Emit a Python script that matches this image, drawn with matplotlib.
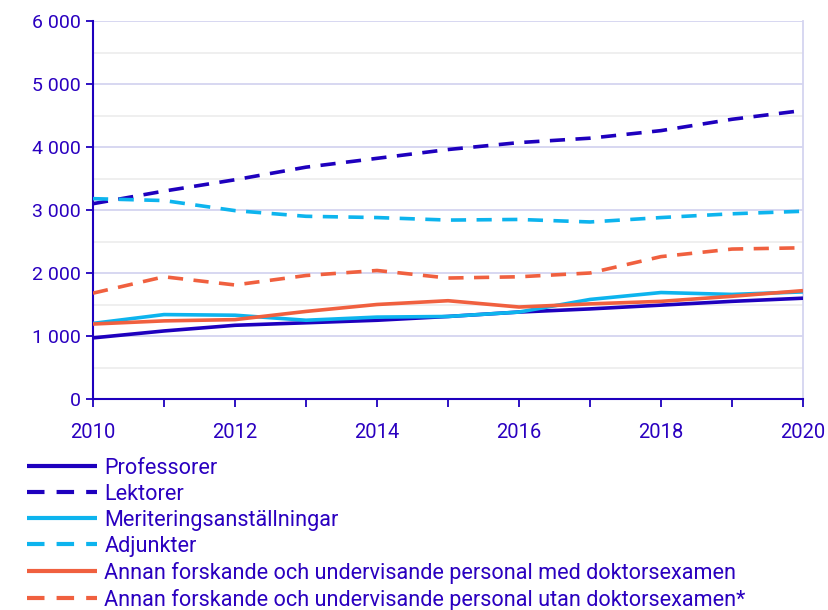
import matplotlib
matplotlib.use("Agg")
import matplotlib.pyplot as plt
from matplotlib.ticker import MultipleLocator, FuncFormatter

years = list(range(2010, 2021))
professorer = [970, 1080, 1170, 1210, 1250, 1310, 1380, 1430, 1490, 1550, 1600]
lektorer = [3100, 3300, 3480, 3680, 3820, 3960, 4070, 4140, 4260, 4440, 4580]
meritering = [1200, 1340, 1330, 1250, 1300, 1310, 1380, 1580, 1690, 1660, 1700]
adjunkter = [3180, 3150, 2990, 2900, 2880, 2840, 2850, 2810, 2880, 2940, 2980]
annan_med = [1190, 1240, 1260, 1390, 1500, 1560, 1460, 1510, 1550, 1630, 1720]
annan_utan = [1680, 1940, 1810, 1960, 2040, 1920, 1940, 2000, 2260, 2380, 2400]

labels = ["Professorer", "Lektorer", "Meriteringsanställningar", "Adjunkter",
          "Annan forskande och undervisande personal med doktorsexamen",
          "Annan forskande och undervisande personal utan doktorsexamen*"]

DARK = "#1e00be"
LIGHT = "#0db4ee"
ORANGE = "#f0603f"
TEXT = "#2a00c0"

plt.rcParams['font.family'] = ['Roboto', 'DejaVu Sans']

fig = plt.figure(figsize=(8.29, 6.10), dpi=100)
ax = fig.add_axes([93/829, 1-399/610, (803-93)/829, (399-21)/610])

series = [professorer, lektorer, meritering, adjunkter, annan_med, annan_utan]
colors = [DARK, DARK, LIGHT, LIGHT, ORANGE, ORANGE]
dashed = [False, True, False, True, False, True]
for s, c, d, l in zip(series, colors, dashed, labels):
    ls = (0, (4.2, 2.9)) if d else '-'
    ax.plot(years, s, color=c, lw=2.6, linestyle=ls, label=l, solid_capstyle='butt', dash_capstyle='butt', zorder=3)

ax.set_xlim(2010, 2020)
ax.set_ylim(0, 6000)
ax.yaxis.set_major_locator(MultipleLocator(1000))
ax.yaxis.set_minor_locator(MultipleLocator(500))
ax.xaxis.set_major_locator(MultipleLocator(2))
ax.xaxis.set_minor_locator(MultipleLocator(1))
ax.yaxis.set_major_formatter(FuncFormatter(lambda v, p: f"{int(v):,}".replace(",", " ")))

ax.grid(which='major', axis='y', color='#d4d4f0', lw=1.3, zorder=0)
ax.grid(which='minor', axis='y', color='#eeeeee', lw=1.3, zorder=0)

for sp in ['left', 'bottom']:
    ax.spines[sp].set_color(DARK)
    ax.spines[sp].set_linewidth(1.5)
ax.spines['top'].set_visible(False)
ax.spines['right'].set_color('#d4d4f0')
ax.spines['right'].set_linewidth(1.3)

ax.tick_params(axis='y', which='major', length=5, width=1.3, color=DARK, labelcolor=TEXT, labelsize=14, pad=4)
ax.tick_params(axis='y', which='minor', length=0)
ax.tick_params(axis='x', which='both', length=6, width=1.3, color=DARK, labelcolor=TEXT, labelsize=14.5, pad=11, direction='out')

leg = fig.legend(loc='upper left', bbox_to_anchor=(27/829, 1-458/610), frameon=False,
                 fontsize=15.6, handlelength=3.25, handletextpad=0.32, labelspacing=0.23,
                 borderpad=0, borderaxespad=0)
for t in leg.get_texts():
    t.set_color(TEXT)
for h in leg.get_lines():
    h.set_linewidth(3)

fig.savefig("out.png", dpi=100)
